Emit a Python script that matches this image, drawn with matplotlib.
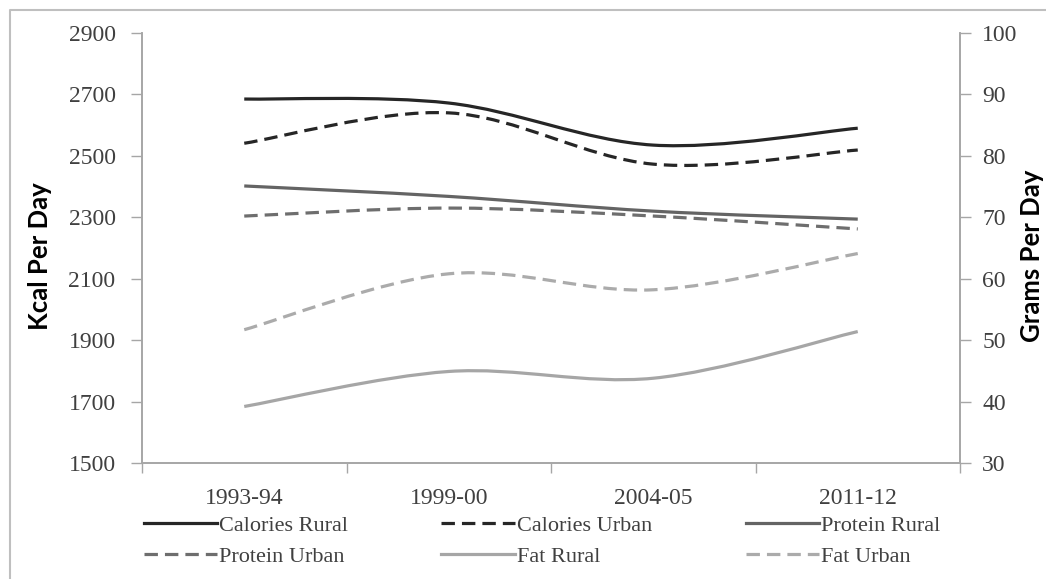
import numpy as np
import matplotlib
matplotlib.use("Agg")
import matplotlib.pyplot as plt
from matplotlib.path import Path
from matplotlib.patches import PathPatch
from matplotlib.lines import Line2D

years = ["1993-94", "1999-00", "2004-05", "2011-12"]

# Kcal per day (left axis)
calories_rural = [2685, 2672, 2535, 2590]
calories_urban = [2541, 2640, 2473, 2519]
# grams per day (right axis)
protein_rural = [75.1, 73.4, 71.0, 69.7]
protein_urban = [70.2, 71.5, 70.2, 68.1]
fat_rural = [39.2, 44.9, 43.8, 51.4]
fat_urban = [51.7, 60.8, 58.2, 64.1]

AXIS_GREY = "#A6A6A6"
TEXT_GREY = "#404040"
SERIF = "Liberation Serif"
DASH = (0, (4.2, 2.2))


def smooth_path(ys):
    # excel style smoothed line: bezier segments through the data points
    xs = np.arange(len(ys), dtype=float)
    pts = np.column_stack([xs, np.asarray(ys, dtype=float)])
    verts = [pts[0]]
    codes = [Path.MOVETO]
    n = len(pts)
    for i in range(n - 1):
        p_prev = pts[max(i - 1, 0)]
        p0 = pts[i]
        p1 = pts[i + 1]
        p_next = pts[min(i + 2, n - 1)]
        c1 = p0 + (p1 - p_prev) / 6.0
        c2 = p1 - (p_next - p0) / 6.0
        verts += [c1, c2, p1]
        codes += [Path.CURVE4] * 3
    return Path(verts, codes)


series = [
    ("Calories Rural", calories_rural, "#262626", "-", "left"),
    ("Calories Urban", calories_urban, "#262626", DASH, "left"),
    ("Protein Rural", protein_rural, "#646464", "-", "right"),
    ("Protein Urban", protein_urban, "#6E6E6E", DASH, "right"),
    ("Fat Rural", fat_rural, "#A6A6A6", "-", "right"),
    ("Fat Urban", fat_urban, "#ABABAB", DASH, "right"),
]

fig = plt.figure(figsize=(10.46, 5.79), dpi=100)
ax = fig.add_axes([142 / 1046, 1 - 463 / 579, (960 - 142) / 1046, (463 - 33) / 579])
ax2 = ax.twinx()

lw = 2.3
handles = []
for name, ys, col, ls, side in series:
    target = ax if side == "left" else ax2
    patch = PathPatch(smooth_path(ys), facecolor="none", edgecolor=col, lw=lw,
                      linestyle=ls, capstyle="butt", joinstyle="round")
    target.add_patch(patch)
    handles.append(Line2D([], [], color=col, lw=lw, linestyle=ls, label=name))

ax.set_xlim(-0.5, len(years) - 0.5)
ax.set_ylim(1500, 2900)
ax.set_yticks(np.arange(1500, 2901, 200))
ax2.set_ylim(30, 100)
ax2.set_yticks(np.arange(30, 101, 10))

ax.set_xticks(np.arange(len(years)))
ax.set_xticklabels(years)
ax.set_xticks(np.arange(len(years) + 1) - 0.5, minor=True)
ax.tick_params(axis="x", which="major", length=0, pad=18, labelsize=17, labelcolor=TEXT_GREY)
ax.tick_params(axis="x", which="minor", length=7, width=1, color=AXIS_GREY, direction="out")
ax.tick_params(axis="y", length=8, width=1, color=AXIS_GREY, pad=11, labelsize=17, labelcolor=TEXT_GREY)
ax2.tick_params(axis="y", length=8, width=1, color=AXIS_GREY, pad=8, labelsize=17, labelcolor=TEXT_GREY)
for lab in ax.get_xticklabels() + ax.get_yticklabels() + ax2.get_yticklabels():
    lab.set_family(SERIF)

for a in (ax, ax2):
    a.spines["top"].set_visible(False)
    for s in ("left", "right", "bottom"):
        a.spines[s].set_color(AXIS_GREY)
        a.spines[s].set_linewidth(1.2)

fig.text(40 / 1046, 1 - 256 / 579, "Kcal Per Day", rotation=90, ha="center", va="center",
         fontsize=18.5, fontweight="bold", family="Lato")
fig.text(1032 / 1046, 1 - 256 / 579, "Grams Per Day", rotation=90, ha="center", va="center",
         fontsize=18.5, fontweight="bold", family="Lato")

# legend filled row by row (3 columns)
order = [0, 3, 1, 4, 2, 5]
leg = fig.legend([handles[i] for i in order], [handles[i].get_label() for i in order],
                 ncol=3, loc="upper left", bbox_to_anchor=(128 / 1046, 1 - 500 / 579),
                 frameon=False, handlelength=3.3, handletextpad=0.1, columnspacing=4.2,
                 labelspacing=0.45, borderpad=0.2, prop={"family": SERIF, "size": 16})
for t in leg.get_texts():
    t.set_color(TEXT_GREY)

# outer border (top and left visible in the original crop)
fig.add_artist(Line2D([10 / 1046, 10 / 1046, 1.0], [0.0, 1 - 10 / 579, 1 - 10 / 579],
                      transform=fig.transFigure, color="#BFBFBF", lw=1.5))

fig.savefig("out.png", dpi=100)
